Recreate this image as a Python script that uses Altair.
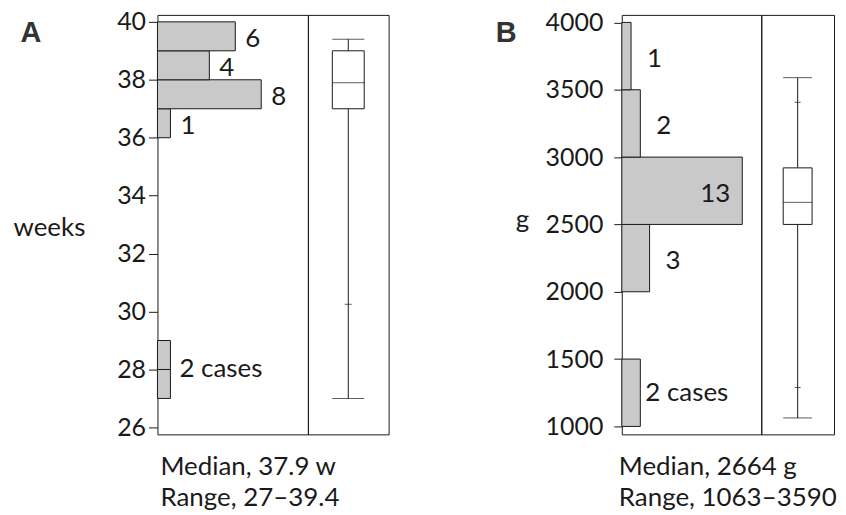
import altair as alt
import pandas as pd

FONT = "Lato"

# ---------- Panel A: gestational age (weeks) ----------
a_lo = [27, 28, 36, 37, 38, 39]
a_hi = [28, 29, 37, 38, 39, 40]
a_count = [1, 1, 1, 8, 4, 6]
a_lab_y = [36.5, 37.5, 38.5, 39.5]
a_lab_x = [1, 8, 4, 6]
a_lab_t = ["1", "8", "4", "6"]
a_cases_y = [28]
a_cases_x = [1]
a_box = dict(lo=27, q1=37, med=37.9, q3=39, hi=39.4)
a_small = [30.25]
a_ticks = [26, 28, 30, 32, 34, 36, 38, 40]
a_text = "Median, 37.9 w\nRange, 27\u201339.4"

# ---------- Panel B: birth weight (g) ----------
b_lo = [1000, 2000, 2500, 3000, 3500]
b_hi = [1500, 2500, 3000, 3500, 4000]
b_count = [2, 3, 13, 2, 1]
b_lab_y = [2250, 3250, 3750]
b_lab_x = [3, 2, 1]
b_lab_t = ["3", "2", "1"]
b_in_y = [2750]
b_in_x = [13]
b_in_t = ["13"]
b_cases_y = [1250]
b_cases_x = [2]
b_box = dict(lo=1063, q1=2500, med=2664, q3=2920, hi=3590)
b_small = [1289, 3407]
b_ticks = [1000, 1500, 2000, 2500, 3000, 3500, 4000]
b_text = "Median, 2664 g\nRange, 1063\u20133590"

H = 421
FILL = "#c9c9c9"
INK = "#1a1a1a"
TXT = 26


def hist_panel(lo, hi, cnt, lab_y, lab_x, lab_t, cases_y, cases_x, ydom, xmax, ticks,
               w, title, title_x, title_y, label_pad, tick_size, letter, letter_x,
               bottom_text, bottom_x, lab_dx, cases_dx, in_y=None, in_x=None, in_t=None):
    df = pd.DataFrame({"lo": lo, "hi": hi, "count": cnt})
    yscale = alt.Scale(domain=ydom, nice=False, zero=False)
    xscale = alt.Scale(domain=[0, xmax], nice=False, zero=True)
    bars = alt.Chart(df).mark_rect(fill=FILL, stroke=INK, strokeWidth=1).encode(
        x=alt.X("count:Q", scale=xscale, axis=None),
        x2=alt.datum(0),
        y=alt.Y("lo:Q", scale=yscale,
                axis=alt.Axis(values=ticks, format="d", title=title, titleAngle=0,
                              titleAlign="left", titleBaseline="alphabetic",
                              titleX=title_x, titleY=title_y,
                              titleFont=FONT, titleFontSize=TXT, titleFontWeight="normal",
                              titleColor=INK, labelFont=FONT, labelFontSize=25,
                              labelColor=INK, labelPadding=label_pad, tickSize=tick_size,
                              tickColor=INK, domain=False, grid=False)),
        y2="hi:Q",
    )
    ldf = pd.DataFrame({"y": lab_y, "x": lab_x, "t": lab_t})
    labels = alt.Chart(ldf).mark_text(align="left", baseline="middle", dx=lab_dx, dy=3,
                                      font=FONT, fontSize=TXT, color=INK).encode(
        x=alt.X("x:Q", scale=xscale), y=alt.Y("y:Q", scale=yscale), text="t:N")
    cdf = pd.DataFrame({"y": cases_y, "x": cases_x, "t": ["2 cases"]})
    cases = alt.Chart(cdf).mark_text(align="left", baseline="middle", dx=cases_dx, dy=0,
                                     font=FONT, fontSize=TXT, color=INK).encode(
        x=alt.X("x:Q", scale=xscale), y=alt.Y("y:Q", scale=yscale), text="t:N")
    layers = [bars, labels, cases]
    if in_y is not None:
        idf = pd.DataFrame({"y": in_y, "x": in_x, "t": in_t})
        layers.append(alt.Chart(idf).mark_text(align="right", baseline="middle", dx=-12, dy=3,
                                               font=FONT, fontSize=TXT, color=INK).encode(
            x=alt.X("x:Q", scale=xscale), y=alt.Y("y:Q", scale=yscale), text="t:N"))
    let = alt.Chart(pd.DataFrame({"t": [letter]})).mark_text(
        align="center", baseline="alphabetic", font="Liberation Sans", fontWeight="bold",
        fontSize=29, color="#333333").encode(
        x=alt.value(letter_x), y=alt.value(27), text="t:N")
    bt = alt.Chart(pd.DataFrame({"t": [bottom_text]})).mark_text(
        align="left", baseline="alphabetic", font=FONT, fontSize=TXT, color=INK,
        lineBreak="\n", lineHeight=31).encode(
        x=alt.value(bottom_x), y=alt.value(462), text="t:N")
    layers += [let, bt]
    return alt.layer(*layers).properties(width=w, height=H)


def box_panel(box, small, ydom, w, bw, sw):
    yscale = alt.Scale(domain=ydom, nice=False, zero=False)
    df = pd.DataFrame({"g": ["x"], **{k: [v] for k, v in box.items()}})
    xenc = alt.X("g:N", axis=None)
    whisk = alt.Chart(df).mark_rule(color=INK, strokeWidth=1).encode(
        x=xenc, y=alt.Y("lo:Q", scale=yscale, axis=None), y2="hi:Q")
    rect = alt.Chart(df).mark_bar(size=bw, fill="white", stroke=INK, strokeWidth=1).encode(
        x=xenc, y=alt.Y("q1:Q", scale=yscale), y2="q3:Q")
    caps = []
    for k in ["lo", "hi", "med"]:
        caps.append(alt.Chart(df).mark_tick(size=bw, thickness=1, color=INK).encode(
            x=xenc, y=alt.Y(f"{k}:Q", scale=yscale)))
    sdf = pd.DataFrame({"g": ["x"] * len(small), "v": small})
    sm = alt.Chart(sdf).mark_tick(size=sw, thickness=1, color=INK).encode(
        x=xenc, y=alt.Y("v:Q", scale=yscale))
    return alt.layer(whisk, rect, *caps, sm).properties(width=w, height=H)


a_ydom = [25.76, 40.24]
b_ydom = [941, 4056]

hist_a = hist_panel(a_lo, a_hi, a_count, a_lab_y, a_lab_x, a_lab_t, a_cases_y, a_cases_x,
                    a_ydom, 11.6, a_ticks, 151, "weeks", -145, 221, 3, 9, "A", -127,
                    a_text, 3, 10, 9)
box_a = box_panel(a_box, a_small, a_ydom, 81, 32, 7)
hist_b = hist_panel(b_lo, b_hi, b_count, b_lab_y, b_lab_x, b_lab_t, b_cases_y, b_cases_x,
                    b_ydom, 15.05, b_ticks, 140, "g", -107, 213, 11, 8, "B", -116,
                    b_text, -3, 16, 5, b_in_y, b_in_x, b_in_t)
box_b = box_panel(b_box, b_small, b_ydom, 73, 29, 6)

gap = alt.Chart(pd.DataFrame({"v": [0]})).mark_point(opacity=0).encode(
    x=alt.value(0), y=alt.value(0)
).properties(width=234, height=H, view=alt.ViewBackground(strokeOpacity=0))

chart = alt.hconcat(hist_a, box_a, gap, hist_b, box_b, spacing=0, bounds="flush").resolve_scale(
    y="independent", x="independent"
).properties(
    padding={"left": 4, "top": 0, "right": 0, "bottom": 0},
    background="white",
).configure_view(stroke=INK, strokeWidth=1)

chart.save("out.html", embed_options={"renderer": "svg", "actions": False})
